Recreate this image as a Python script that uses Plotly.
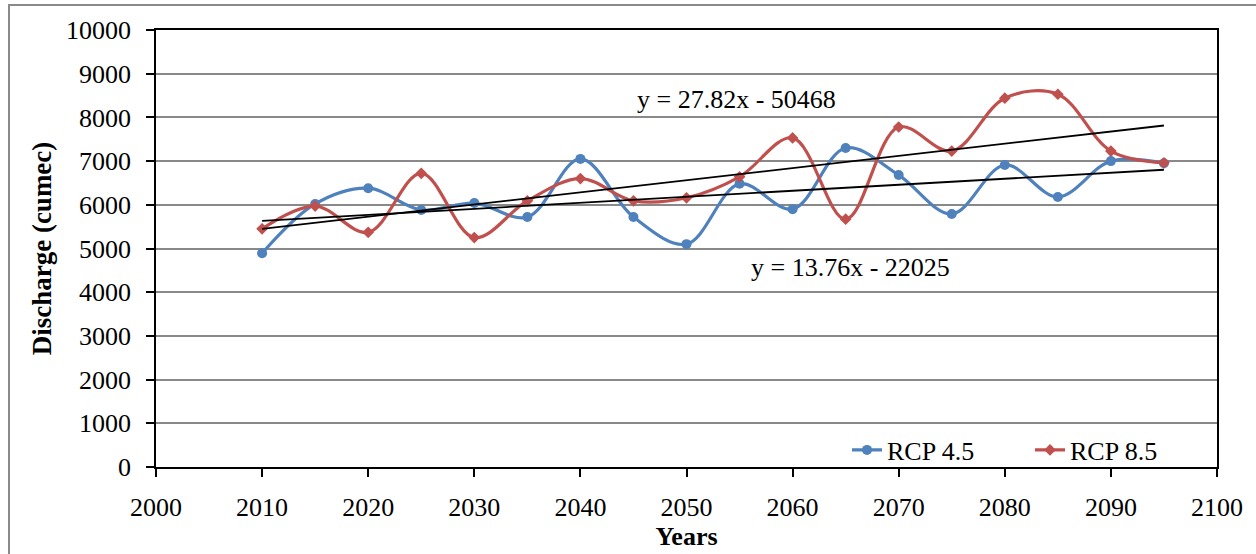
import plotly.graph_objects as go

years = [2010, 2015, 2020, 2025, 2030, 2035, 2040, 2045, 2050, 2055,
         2060, 2065, 2070, 2075, 2080, 2085, 2090, 2095]
rcp45 = [4890, 6020, 6380, 5880, 6040, 5720, 7050, 5720, 5100, 6480,
         5900, 7300, 6680, 5790, 6910, 6180, 7000, 6950]
rcp85 = [5450, 5970, 5370, 6720, 5250, 6090, 6600, 6090, 6160, 6640,
         7530, 5670, 7780, 7230, 8440, 8530, 7230, 6960]

# trendline equations as printed on the chart
trend85 = (27.82, -50468)
trend45 = (13.76, -22025)
trend_x = [2010, 2095]

x_ticks = list(range(2000, 2101, 10))
y_ticks = list(range(0, 10001, 1000))

FONT = "Liberation Serif, Times New Roman, serif"
FS = 26
BLUE = "#4F81BD"
RED = "#C0504D"

fig = go.Figure()
fig.add_trace(go.Scatter(
    x=years, y=rcp45, name="RCP 4.5", mode="lines+markers",
    line=dict(color=BLUE, width=3.2, shape="spline", smoothing=1.0),
    marker=dict(symbol="circle", size=10, color=BLUE)))
fig.add_trace(go.Scatter(
    x=years, y=rcp85, name="RCP 8.5", mode="lines+markers",
    line=dict(color=RED, width=3.2, shape="spline", smoothing=1.0),
    marker=dict(symbol="diamond", size=9, color=RED)))
for (m, c) in (trend85, trend45):
    fig.add_trace(go.Scatter(
        x=trend_x, y=[m * xv + c for xv in trend_x], mode="lines",
        line=dict(color="black", width=1.8), showlegend=False, hoverinfo="skip"))

fig.add_annotation(x=2045.15, y=8400, text="y = 27.82x - 50468", showarrow=False,
                   font=dict(family=FONT, size=FS, color="black"), xanchor="left",
                   yanchor="middle")
fig.add_annotation(x=2055.9, y=4560, text="y = 13.76x - 22025", showarrow=False,
                   font=dict(family=FONT, size=FS, color="black"), xanchor="left",
                   yanchor="middle")

W, H = 1256, 554
L, R, T, B = 156, 39, 30, 87
pw, ph = W - L - R, H - T - B

def px_x(p):
    return (p - L) / pw

def px_y(p):
    return (H - B - p) / ph

fig.add_shape(type="rect", xref="paper", yref="paper",
              x0=px_x(9), x1=px_x(1275), y0=px_y(5), y1=px_y(580),
              line=dict(color="#8a8a8a", width=2), layer="below")

fig.update_layout(
    width=W, height=H,
    margin=dict(l=L, r=R, t=T, b=B, autoexpand=False),
    paper_bgcolor="white", plot_bgcolor="white",
    font=dict(family=FONT, size=FS, color="black"),
    showlegend=True,
    legend=dict(orientation="h", x=px_x(847), y=px_y(450), xanchor="left", yanchor="middle",
                bgcolor="rgba(0,0,0,0)", font=dict(family=FONT, size=FS),
                itemwidth=30, entrywidth=138, tracegroupgap=0),
)
fig.update_xaxes(
    range=[2000, 2100], tickvals=x_ticks, ticks="outside", ticklen=8, tickwidth=1.5,
    tickcolor="black", showline=True, linecolor="black", linewidth=1.5, mirror=True,
    showgrid=False, zeroline=False, tickfont=dict(family=FONT, size=FS), tickformat="d",
    ticklabelstandoff=8,
    title=dict(text="<b>Years</b>", font=dict(family=FONT, size=FS), standoff=0),
)
fig.update_yaxes(
    range=[0, 10000], tickvals=y_ticks, ticks="outside", ticklen=8, tickwidth=1.5,
    tickcolor="black", showline=True, linecolor="black", linewidth=1.5, mirror=True,
    showgrid=True, gridcolor="#898989", gridwidth=1.6, zeroline=False,
    tickfont=dict(family=FONT, size=FS), ticklabelstandoff=10, tickformat="d",
    title=dict(text="<b>Discharge (cumec)</b>", font=dict(family=FONT, size=27), standoff=7),
)

fig.write_html("out.html", config={"displayModeBar": False},
               post_script="document.body.style.margin='0px';")
